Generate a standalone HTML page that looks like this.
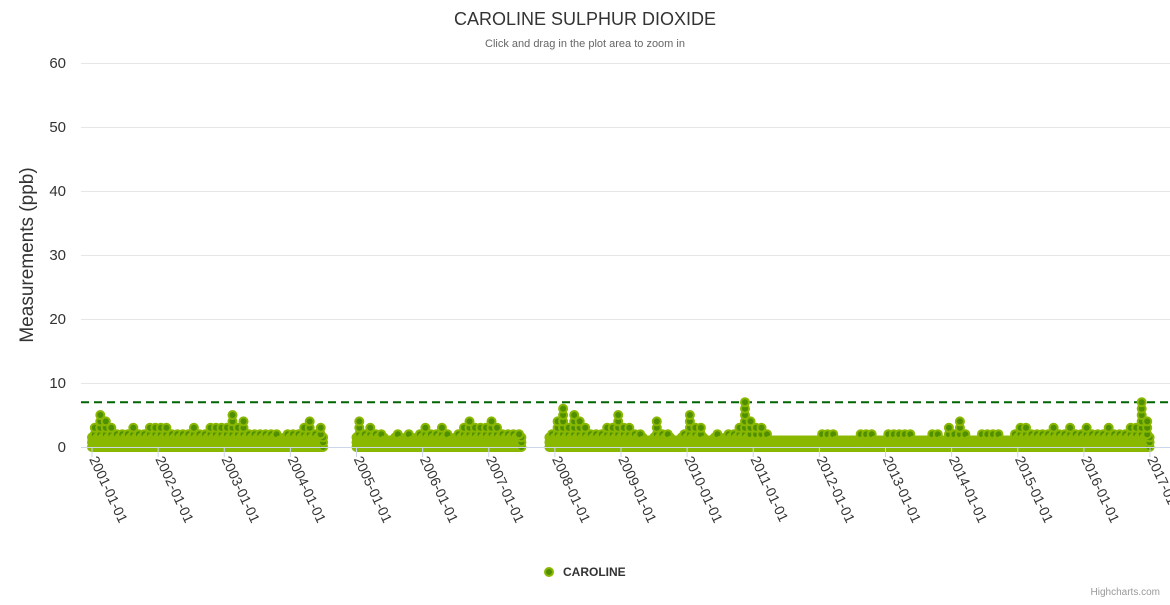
<!DOCTYPE html>
<html><head><meta charset="utf-8"><style>
body{margin:0;background:#fff;font-family:"Liberation Sans",sans-serif}
svg text{font-family:"Liberation Sans",sans-serif}
</style></head><body>
<svg id="c" width="1170" height="600" xmlns="http://www.w3.org/2000/svg">
<text x="585" y="25" text-anchor="middle" font-size="18" fill="#333">CAROLINE SULPHUR DIOXIDE</text>
<text x="585" y="47" text-anchor="middle" font-size="11" fill="#666">Click and drag in the plot area to zoom in</text>
<text transform="translate(33,255) rotate(-90)" text-anchor="middle" font-size="19" fill="#333">Measurements (ppb)</text>
<g id="grid"></g><g id="pts"></g><g id="xax"></g>
<g>
<circle cx="549" cy="572" r="4" fill="#4f8f00" stroke="#8ab800" stroke-width="2"/>
<text x="563" y="576" font-size="12" font-weight="bold" fill="#333">CAROLINE</text></g>
<text x="1160" y="595" text-anchor="end" font-size="10" fill="#999">Highcharts.com</text>
</svg>
<script>
const years=[2001,2002,2003,2004,2005,2006,2007,2008,2009,2010,2011,2012,2013,2014,2015,2016];
const monthlyPeaks=["354322232233","332222322333","353422222212","223423------","423221121212","322321234333","432222-----2","463543222335","332211422112","533112122374","332111111111","222111122211","222221112213","242112222112","332222322322","322232223374"];
const baseLevels=[1.5,1.5,1.5,1.5,1.5,1.5,1.5,1.5,1.5,1.5,1,1,1,1,1.5,1.5];
const yTicks=[0,10,20,30,40,50,60];
const xTickYears=[2001,2002,2003,2004,2005,2006,2007,2008,2009,2010,2011,2012,2013,2014,2015,2016,2017];
const threshold=7;
const NS="http://www.w3.org/2000/svg";
const X0=92,X1=1150,Y0=447,Y1=63;
const xs=t=>X0+(t-2001)/(2017-2001)*(X1-X0);
const ys=v=>Y0-v/60*(Y0-Y1);
function mk(tag,at,p){const e=document.createElementNS(NS,tag);for(const k in at)e.setAttribute(k,at[k]);p.appendChild(e);return e;}
const grid=document.getElementById('grid');
yTicks.forEach(v=>{
 const l=mk('line',{x1:81,x2:1170,y1:ys(v)+0.5,y2:ys(v)+0.5,stroke:'#e6e6e6'},grid);
 
 
 const t=mk('text',{x:66,y:ys(v)+5,'text-anchor':'end','font-size':15,fill:'#333'},grid);
 t.textContent=v;
 
 
});
const xax=document.getElementById('xax');
const ax=mk('line',{x1:81,x2:1170,y1:Y0+0.5,y2:Y0+0.5,stroke:'#ccd6eb'},xax);


xTickYears.forEach(y=>{
 const x=xs(y);
 const tk=mk('line',{x1:x,x2:x,y1:Y0,y2:Y0+10,stroke:'#ccd6eb'},xax);
 
 
 const t=mk('text',{transform:`translate(${x-3},${Y0+12}) rotate(65)`,'font-size':14,fill:'#333'},xax);
 t.textContent=y+'-01-01';
 
 
});
const pts=document.getElementById('pts');
const th=mk('line',{x1:81,x2:1170,y1:ys(threshold),y2:ys(threshold),stroke:'#006400','stroke-width':2,'stroke-dasharray':'8,5'},pts);


function dot(t,v){
 const c=mk('circle',{cx:xs(t).toFixed(1),cy:ys(v).toFixed(1),r:4,fill:'#4f8f00',stroke:'#8ab800','stroke-width':2},pts);
 
 
}
years.forEach((yr,i)=>{
 const s=monthlyPeaks[i],b=baseLevels[i];
 for(let m=0;m<12;m++){
  const ch=s[m]; if(ch==='-')continue;
  const pk=+ch, top=Math.min(b,pk);
  for(let d=0;d<30;d+=4){
   const t=yr+(m+d/30)/12;
   dot(t,0); if(top>0){dot(t,top/2);dot(t,top);}
  }
  for(let v=Math.floor(b)+1;v<=pk;v++)dot(yr+(m+0.5)/12,v);
 }
});
</script>
</body></html>
